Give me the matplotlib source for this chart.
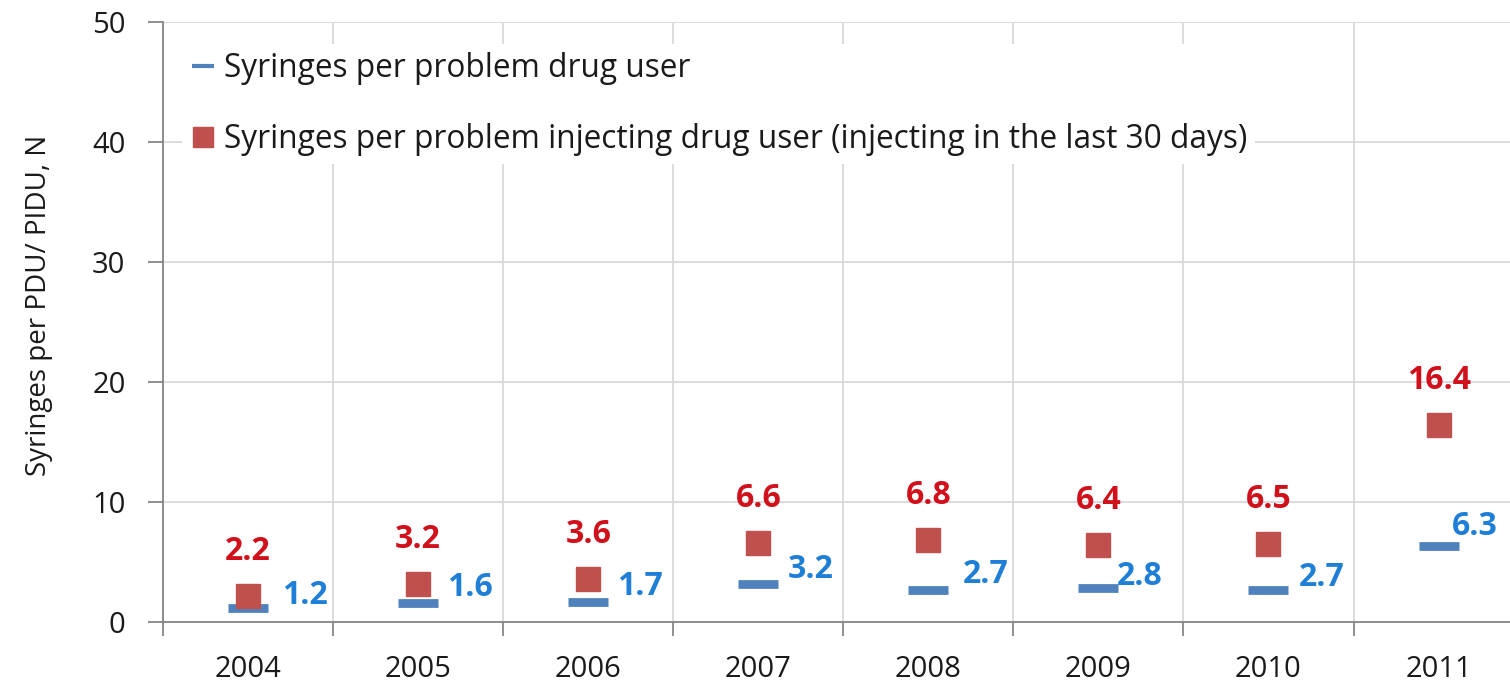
import matplotlib.pyplot as plt
from matplotlib.lines import Line2D
from matplotlib.ticker import FixedLocator

years = ["2004", "2005", "2006", "2007", "2008", "2009", "2010", "2011"]
per_pdu = [1.2, 1.6, 1.7, 3.2, 2.7, 2.8, 2.7, 6.3]
per_pidu = [2.2, 3.2, 3.6, 6.6, 6.8, 6.4, 6.5, 16.4]

pdu_label = "Syringes per problem drug user"
pidu_label = "Syringes per problem injecting drug user (injecting in the last 30 days)"

# where each blue value label sits next to its dash (points, right / up)
pdu_label_nudge = [(24.5, 9), (21, 11), (21, 11), (21.5, 10),
                   (24.5, 11), (13, 8.5), (21.5, 8.5), (9.5, 14.5)]

blue = "#4F81BD"
red = "#C0504D"
blue_text = "#1F7FD6"
red_text = "#D0101A"
dark = "#1a1a1a"
axis_grey = "#868686"

plt.rcParams["font.family"] = ["Open Sans", "DejaVu Sans"]

fig = plt.figure(figsize=(15.1, 6.87), dpi=100)
ax = fig.add_axes([163 / 1510, 65 / 687, 1 - 163 / 1510, 600 / 687])

x = list(range(len(years)))

ax.plot(x, per_pdu, linestyle="none", marker="_", markersize=29,
        markeredgewidth=6.3, color=blue, zorder=3)
ax.plot(x, per_pidu, linestyle="none", marker="s", markersize=17.3,
        color=red, zorder=3)

# value labels
for xi, v, off in zip(x, per_pdu, pdu_label_nudge):
    ax.annotate(f"{v:.1f}", (xi, v), xytext=off, textcoords="offset points",
                color=blue_text, fontsize=23, fontweight="bold",
                ha="left", va="center")
for xi, v in zip(x, per_pidu):
    ax.annotate(f"{v:.1f}", (xi, v), xytext=(0, 32), textcoords="offset points",
                color=red_text, fontsize=23, fontweight="bold",
                ha="center", va="center")

ax.set_xlim(-0.5, 7.42)
ax.set_ylim(0, 50)
ax.set_yticks(range(0, 51, 10))
ax.set_xticks(x)
ax.set_xticklabels(years)
ax.xaxis.set_minor_locator(FixedLocator([i + 0.5 for i in range(-1, 8)]))

ax.grid(axis="y", color="#D9D9D9", linewidth=1.3)
ax.grid(axis="x", which="minor", color="#D9D9D9", linewidth=1.3)
ax.set_axisbelow(True)

for s in ["top", "right"]:
    ax.spines[s].set_visible(False)
for s in ["left", "bottom"]:
    ax.spines[s].set_color(axis_grey)
    ax.spines[s].set_linewidth(1.3)

ax.tick_params(axis="y", length=11, width=1.3, color=axis_grey,
               labelsize=21, pad=16, labelcolor=dark)
ax.tick_params(axis="x", which="major", length=0, labelsize=21, pad=24,
               labelcolor=dark)
ax.tick_params(axis="x", which="minor", length=10, width=1.3, color=axis_grey)

ax.set_ylabel("Syringes per PDU/ PIDU, N", fontsize=20, color=dark)
ax.yaxis.set_label_coords(-0.082, 0.527)

handles = [
    Line2D([], [], linestyle="none", marker="_", markersize=16,
           markeredgewidth=3, color=blue),
    Line2D([], [], linestyle="none", marker="s", markersize=14.5, color=red),
]
leg = ax.legend(handles, [pdu_label, pidu_label], loc="upper left",
                bbox_to_anchor=(0.002, 0.99), fontsize=22.8, frameon=True,
                facecolor="white", edgecolor="none", framealpha=1,
                fancybox=False, labelspacing=1.22, handlelength=0.85,
                handletextpad=0.25, borderpad=0.25)
for t in leg.get_texts():
    t.set_color(dark)

plt.savefig("out.png", dpi=100)
